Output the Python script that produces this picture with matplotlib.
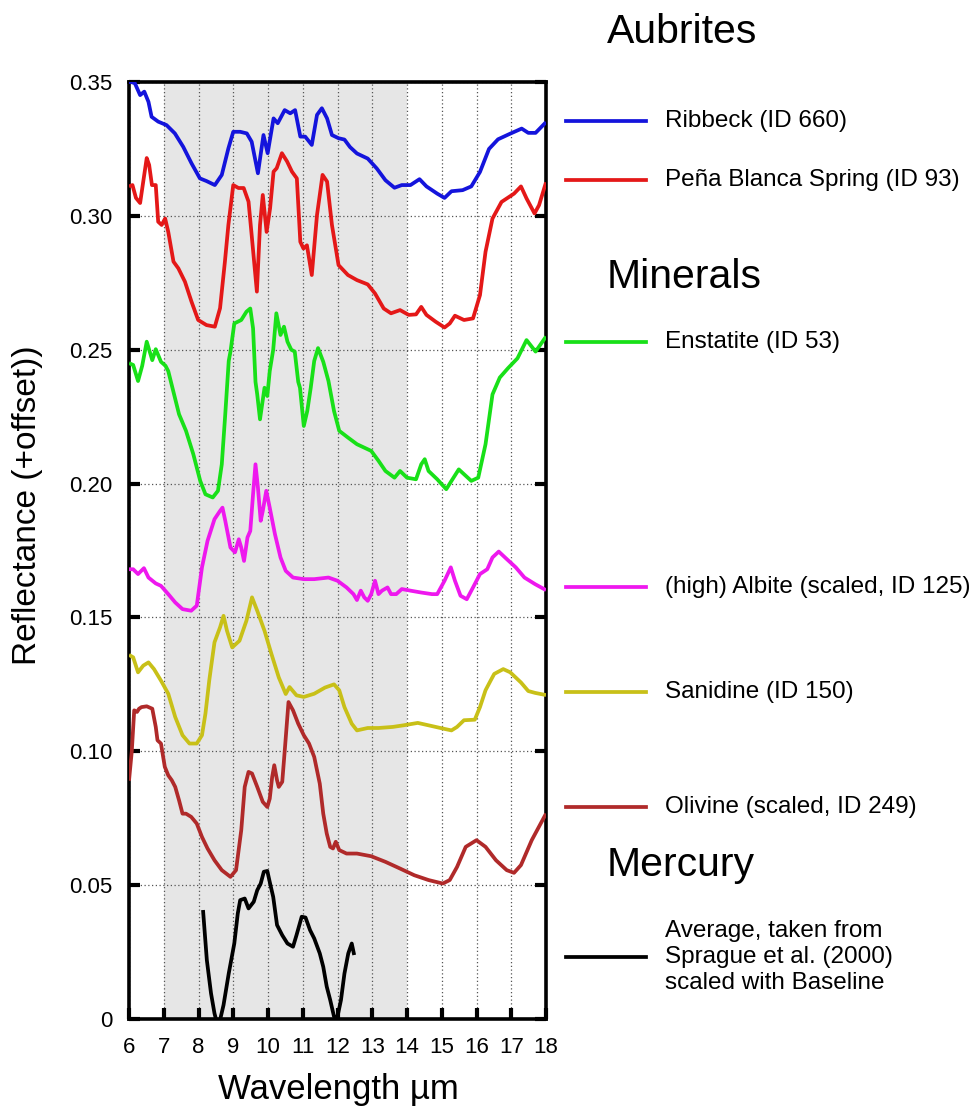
import matplotlib
matplotlib.use('Agg')
import matplotlib.pyplot as plt
from matplotlib.lines import Line2D
from matplotlib.ticker import FuncFormatter

plt.rcParams['font.family'] = ['Liberation Sans', 'DejaVu Sans']

# ---------------- data ----------------
ribbeck_x = [6.0, 6.08, 6.17, 6.32, 6.44, 6.56, 6.65, 6.84, 7.08, 7.32, 7.56, 7.8, 8.04, 8.23,
             8.47, 8.67, 8.86, 9.0, 9.2, 9.39, 9.53, 9.71, 9.87, 9.99, 10.16, 10.28, 10.48,
             10.64, 10.78, 10.93, 11.07, 11.26, 11.41, 11.55, 11.7, 11.84, 12.03, 12.2, 12.36,
             12.56, 12.87, 13.13, 13.38, 13.64, 13.85, 14.1, 14.36, 14.56, 14.87, 15.08, 15.28,
             15.6, 15.85, 16.1, 16.36, 16.62, 16.97, 17.3, 17.49, 17.7, 18.0]
ribbeck_y = [0.3500, 0.3500, 0.3495, 0.3451, 0.3464, 0.3426, 0.3370, 0.3352, 0.3339, 0.3308,
             0.3258, 0.3196, 0.3140, 0.3130, 0.3115, 0.3153, 0.3252, 0.3314, 0.3314, 0.3308,
             0.3277, 0.3159, 0.3302, 0.3234, 0.3364, 0.3346, 0.3395, 0.3383, 0.3395, 0.3296,
             0.3296, 0.3265, 0.3377, 0.3402, 0.3364, 0.3302, 0.3290, 0.3285, 0.3257, 0.3233,
             0.3214, 0.3177, 0.3133, 0.3105, 0.3115, 0.3115, 0.3137, 0.3110, 0.3083, 0.3067,
             0.3092, 0.3096, 0.3110, 0.3164, 0.3250, 0.3286, 0.3307, 0.3326, 0.3310, 0.3310,
             0.3350]

pena_x = [6.0, 6.1, 6.2, 6.32, 6.41, 6.51, 6.58, 6.66, 6.77, 6.84, 6.94, 7.04, 7.13, 7.28, 7.42,
          7.61, 7.8, 7.99, 8.23, 8.47, 8.62, 8.76, 8.86, 9.0, 9.15, 9.3, 9.44, 9.53, 9.68, 9.77,
          9.85, 9.96, 10.06, 10.16, 10.25, 10.4, 10.55, 10.69, 10.83, 10.93, 11.02, 11.12, 11.26,
          11.41, 11.57, 11.7, 11.84, 12.03, 12.3, 12.56, 12.87, 13.08, 13.33, 13.54, 13.8,
          14.05, 14.26, 14.41, 14.56, 14.82, 15.08, 15.23, 15.38, 15.64, 15.9, 16.1, 16.26,
          16.46, 16.72, 17.08, 17.28, 17.44, 17.67, 17.8, 18.0]
pena_y = [0.3110, 0.3115, 0.3067, 0.3048, 0.3128, 0.3216, 0.3190, 0.3115, 0.3115, 0.2978,
          0.2966, 0.2990, 0.2940, 0.2829, 0.2804, 0.2754, 0.2679, 0.2611, 0.2592, 0.2586,
          0.2655, 0.2829, 0.2966, 0.3115, 0.3104, 0.3104, 0.3053, 0.2928, 0.2717, 0.2966,
          0.3078, 0.2940, 0.3028, 0.3165, 0.3178, 0.3234, 0.3203, 0.3165, 0.3140, 0.2903,
          0.2878, 0.2890, 0.2779, 0.3003, 0.3153, 0.3128, 0.2966, 0.2816, 0.2779, 0.2760,
          0.2744, 0.2710, 0.2654, 0.2636, 0.2648, 0.2630, 0.2632, 0.2660, 0.2630, 0.2605,
          0.2583, 0.2598, 0.2627, 0.2611, 0.2617, 0.2704, 0.2866, 0.2990, 0.3052, 0.3083,
          0.3110, 0.3065, 0.3009, 0.3040, 0.3125]

enstatite_x = [6.0, 6.12, 6.26, 6.38, 6.51, 6.67, 6.77, 6.92, 7.05, 7.13, 7.44, 7.64, 7.85, 8.05,
               8.2, 8.41, 8.56, 8.67, 8.77, 8.87, 8.92, 9.03, 9.23, 9.38, 9.49, 9.57, 9.64, 9.69,
               9.77, 9.9, 9.98, 10.05, 10.15, 10.24, 10.36, 10.46, 10.56, 10.67, 10.77, 10.87,
               10.92, 11.03, 11.13, 11.23, 11.33, 11.44, 11.59, 11.74, 11.9, 12.05, 12.3, 12.56,
               12.97, 13.18, 13.38, 13.64, 13.8, 14.0, 14.26, 14.41, 14.51, 14.62, 14.87, 15.13,
               15.28, 15.49, 15.64, 15.85, 16.05, 16.26, 16.46, 16.67, 16.9, 17.18, 17.44, 17.7,
               18.0]
enstatite_y = [0.2450, 0.2443, 0.2383, 0.2440, 0.2530, 0.2461, 0.2502, 0.2455, 0.2440, 0.2420,
               0.2259, 0.2197, 0.2110, 0.2010, 0.1960, 0.1948, 0.1973, 0.2072, 0.2259, 0.2458,
               0.2493, 0.2598, 0.2611, 0.2642, 0.2654, 0.2580, 0.2380, 0.2333, 0.2240, 0.2358,
               0.2327, 0.2420, 0.2500, 0.2636, 0.2555, 0.2586, 0.2530, 0.2500, 0.2493, 0.2380,
               0.2358, 0.2215, 0.2271, 0.2358, 0.2458, 0.2506, 0.2455, 0.2383, 0.2271, 0.2197,
               0.2172, 0.2147, 0.2122, 0.2085, 0.2047, 0.2022, 0.2047, 0.2022, 0.2016, 0.2072,
               0.2091, 0.2047, 0.2016, 0.1979, 0.2010, 0.2053, 0.2035, 0.2010, 0.2022, 0.2147,
               0.2333, 0.2396, 0.2430, 0.2468, 0.2536, 0.2493, 0.2549]

albite_x = [6.0, 6.12, 6.26, 6.43, 6.56, 6.77, 6.92, 7.13, 7.33, 7.54, 7.79, 7.95, 8.1, 8.26,
            8.46, 8.62, 8.69, 8.77, 8.92, 9.05, 9.16, 9.23, 9.31, 9.41, 9.49, 9.57, 9.64, 9.71,
            9.79, 9.85, 9.95, 10.05, 10.2, 10.36, 10.51, 10.72, 11.03, 11.33, 11.74, 12.0, 12.26,
            12.46, 12.56, 12.67, 12.77, 12.87, 12.97, 13.08, 13.18, 13.28, 13.44, 13.54, 13.69,
            13.85, 14.1, 14.41, 14.72, 14.87, 15.08, 15.26, 15.38, 15.54, 15.72, 15.9, 16.1,
            16.31, 16.46, 16.64, 16.87, 17.13, 17.38, 17.69, 18.0]
albite_y = [0.1680, 0.1680, 0.1662, 0.1684, 0.1649, 0.1627, 0.1618, 0.1587, 0.1556, 0.1531,
            0.1525, 0.1544, 0.1687, 0.1786, 0.1867, 0.1898, 0.1910, 0.1861, 0.1761, 0.1743,
            0.1792, 0.1761, 0.1711, 0.1799, 0.1823, 0.1960, 0.2072, 0.1985, 0.1861, 0.1898,
            0.1973, 0.1910, 0.1811, 0.1724, 0.1674, 0.1649, 0.1643, 0.1643, 0.1649, 0.1637,
            0.1612, 0.1587, 0.1565, 0.1600, 0.1575, 0.1562, 0.1587, 0.1637, 0.1587, 0.1600,
            0.1612, 0.1587, 0.1587, 0.1606, 0.1600, 0.1593, 0.1587, 0.1587, 0.1637, 0.1687,
            0.1637, 0.1581, 0.1568, 0.1612, 0.1662, 0.1680, 0.1724, 0.1746, 0.1718, 0.1687,
            0.1649, 0.1624, 0.1602]

sanidine_x = [6.0, 6.12, 6.26, 6.41, 6.56, 6.72, 6.92, 7.13, 7.33, 7.54, 7.74, 7.95, 8.1, 8.2,
              8.31, 8.36, 8.46, 8.62, 8.72, 8.82, 8.97, 9.18, 9.38, 9.54, 9.69, 9.9, 10.1, 10.31,
              10.51, 10.62, 10.82, 11.03, 11.33, 11.64, 11.9, 12.05, 12.2, 12.41, 12.56, 12.87,
              13.18, 13.59, 13.9, 14.31, 14.62, 15.03, 15.28, 15.44, 15.64, 15.95, 16.1, 16.26,
              16.41, 16.51, 16.77, 16.97, 17.28, 17.49, 17.69, 18.0]
sanidine_y = [0.1360, 0.1351, 0.1295, 0.1320, 0.1332, 0.1307, 0.1264, 0.1215, 0.1128, 0.1060,
              0.1029, 0.1029, 0.1060, 0.1141, 0.1265, 0.1313, 0.1407, 0.1463, 0.1506, 0.1450,
              0.1388, 0.1413, 0.1488, 0.1575, 0.1525, 0.1450, 0.1363, 0.1276, 0.1214, 0.1240,
              0.1209, 0.1203, 0.1215, 0.1238, 0.1250, 0.1228, 0.1165, 0.1103, 0.1078, 0.1087,
              0.1087, 0.1091, 0.1097, 0.1106, 0.1097, 0.1085, 0.1078, 0.1091, 0.1116, 0.1118,
              0.1165, 0.1228, 0.1265, 0.1289, 0.1307, 0.1295, 0.1257, 0.1225, 0.1218, 0.1210]

olivine_x = [6.0, 6.08, 6.15, 6.23, 6.29, 6.36, 6.51, 6.67, 6.77, 6.82, 6.92, 7.03, 7.13, 7.23,
             7.33, 7.44, 7.54, 7.64, 7.79, 7.95, 8.1, 8.26, 8.46, 8.67, 8.92, 9.08, 9.23, 9.33,
             9.44, 9.54, 9.69, 9.85, 9.98, 10.05, 10.12, 10.18, 10.26, 10.31, 10.41, 10.49, 10.59,
             10.72, 10.87, 11.03, 11.18, 11.33, 11.49, 11.59, 11.69, 11.79, 11.87, 11.95, 12.05,
             12.26, 12.56, 12.97, 13.38, 13.8, 14.21, 14.62, 15.03, 15.23, 15.44, 15.69, 16.0,
             16.26, 16.56, 16.87, 17.08, 17.28, 17.59, 18.0]
olivine_y = [0.0890, 0.1000, 0.1153, 0.1147, 0.1159, 0.1165, 0.1168, 0.1159, 0.1091, 0.1041,
             0.1029, 0.0942, 0.0910, 0.0892, 0.0867, 0.0817, 0.0767, 0.0767, 0.0755, 0.0730,
             0.0680, 0.0637, 0.0593, 0.0556, 0.0531, 0.0556, 0.0705, 0.0867, 0.0923, 0.0917,
             0.0867, 0.0811, 0.0792, 0.0823, 0.0904, 0.0948, 0.0892, 0.0867, 0.0886, 0.1016,
             0.1184, 0.1153, 0.1103, 0.1060, 0.1029, 0.0979, 0.0879, 0.0767, 0.0693, 0.0643,
             0.0637, 0.0662, 0.0631, 0.0618, 0.0618, 0.0608, 0.0587, 0.0562, 0.0537, 0.0519,
             0.0506, 0.0519, 0.0568, 0.0643, 0.0668, 0.0643, 0.0593, 0.0556, 0.0546, 0.0575,
             0.0668, 0.0767]

mercury_x = [8.13, 8.24, 8.36, 8.46, 8.51, 8.62, 8.72, 8.87, 9.03, 9.13, 9.2, 9.33, 9.44, 9.59,
             9.69, 9.79, 9.88, 9.98, 10.05, 10.15, 10.26, 10.41, 10.56, 10.72, 10.82, 10.97,
             11.08, 11.21, 11.33, 11.49, 11.59, 11.69, 11.79, 11.9, 12.0, 12.1, 12.2, 12.31,
             12.41, 12.48]
mercury_y = [0.0407, 0.0220, 0.0096, 0.0021, -0.0004, -0.0004, 0.0052, 0.0170, 0.0282, 0.0394,
             0.0444, 0.0450, 0.0413, 0.0438, 0.0481, 0.0506, 0.0550, 0.0553, 0.0512, 0.0456,
             0.0351, 0.0313, 0.0282, 0.0270, 0.0313, 0.0382, 0.0379, 0.0332, 0.0301, 0.0245,
             0.0195, 0.0121, 0.0071, 0.0009, 0.0009, 0.0071, 0.0170, 0.0245, 0.0282, 0.0239]

series_labels = ["Ribbeck (ID 660)", "Peña Blanca Spring (ID 93)", "Enstatite (ID 53)",
                 "(high) Albite (scaled, ID 125)", "Sanidine (ID 150)",
                 "Olivine (scaled, ID 249)",
                 "Average, taken from\nSprague et al. (2000)\nscaled with Baseline"]
series_colors = ['#1414dc', '#e41818', '#18e018', '#ee18ee', '#c8c018', '#b02a2a', '#000000']
group_titles = ["Aubrites", "Minerals", "Mercury"]
x_ticks = list(range(6, 19))
y_ticks = [0, 0.05, 0.10, 0.15, 0.20, 0.25, 0.30, 0.35]
shade_range = (7, 14)

# ---------------- figure ----------------
W, H = 975, 1106
LW = 2.7
fig = plt.figure(figsize=(W / 100, H / 100), dpi=100)
ax = fig.add_axes([129 / W, 1 - 1019 / H, (546 - 129) / W, (1019 - 82) / H])

ax.axvspan(*shade_range, color='#e6e6e6', lw=0, zorder=0)

xs = [ribbeck_x, pena_x, enstatite_x, albite_x, sanidine_x, olivine_x, mercury_x]
ys = [ribbeck_y, pena_y, enstatite_y, albite_y, sanidine_y, olivine_y, mercury_y]
for x, y, c in zip(xs, ys, series_colors):
    ax.plot(x, y, color=c, lw=LW, solid_joinstyle='round', solid_capstyle='butt', zorder=3)

ax.set_xlim(6, 18)
ax.set_ylim(0, 0.35)
ax.set_xticks(x_ticks)
ax.set_yticks(y_ticks)
ax.yaxis.set_major_formatter(FuncFormatter(lambda v, p: '0' if abs(v) < 1e-9 else f'{v:.2f}'))
ax.set_axisbelow(True)
ax.grid(True, ls=(0, (1, 2)), color='#555555', lw=0.9)
ax.tick_params(axis='both', direction='in', length=8, width=3, labelsize=16, color='black')
ax.tick_params(axis='x', top=False, bottom=True, pad=13)
ax.tick_params(axis='y', left=True, right=True, pad=12)
for s in ax.spines.values():
    s.set_linewidth(2.6)

fig.text(28 / W, 1 - 505 / H, "Reflectance (+offset))", rotation=90, ha='center', va='center',
         fontsize=24)
fig.text(338 / W, 1 - 1089 / H, "Wavelength µm", ha='center', va='center', fontsize=25)

# ---------------- legend on the right ----------------
title_pos = [32, 277, 865]
for t, yp in zip(group_titles, title_pos):
    fig.text(607 / W, 1 - yp / H, t, ha='left', va='center', fontsize=29.5)

entry_pos = [121, 180, 342, 587, 692, 807, 957]
for lab, c, yp in zip(series_labels, series_colors, entry_pos):
    fig.add_artist(Line2D([566 / W, 646 / W], [1 - yp / H, 1 - yp / H], color=c, lw=LW,
                          transform=fig.transFigure))
    fig.text(665 / W, 1 - yp / H, lab, ha='left', va='center', fontsize=17.5, linespacing=1.25)

fig.savefig('out.png', dpi=100)
